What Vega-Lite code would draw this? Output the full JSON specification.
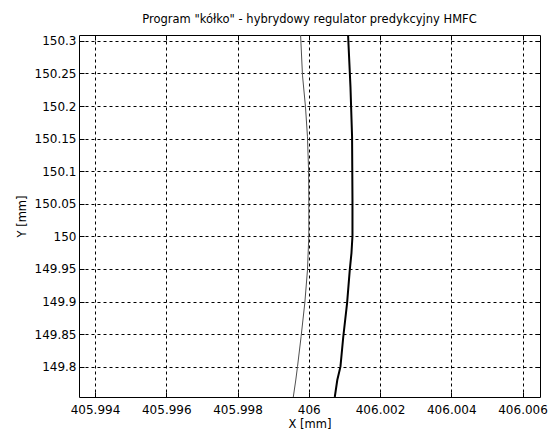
{
  "$schema": "https://vega.github.io/schema/vega-lite/v6.json",
  "width": 461,
  "height": 362,
  "autosize": {"type": "none"},
  "padding": {"left": 79, "top": 35, "right": 12, "bottom": 38},
  "background": "white",
  "title": {
    "text": "Program \"kółko\" - hybrydowy regulator predykcyjny HMFC",
    "font": "DejaVu Sans",
    "fontSize": 11.5,
    "fontWeight": "normal",
    "color": "black",
    "offset": 9
  },
  "config": {
    "view": {"stroke": "black", "strokeWidth": 1},
    "axis": {
      "labelFont": "DejaVu Sans",
      "labelFontSize": 12,
      "labelColor": "black",
      "titleFont": "DejaVu Sans",
      "titleFontSize": 11.5,
      "titleFontWeight": "normal",
      "titleColor": "black",
      "domain": false,
      "tickColor": "black",
      "tickSize": -5,
      "gridColor": "black",
      "gridDash": [3, 3],
      "gridOpacity": 1,
      "gridWidth": 1
    }
  },
  "datasets": {
    "thin": [
      {"x": 405.99977, "y": 150.3087},
      {"x": 405.999823, "y": 150.2474},
      {"x": 405.999907, "y": 150.1988},
      {"x": 405.999963, "y": 150.1528},
      {"x": 405.999994, "y": 150.1017},
      {"x": 406.0, "y": 150.0557},
      {"x": 406.0, "y": 149.9994},
      {"x": 405.999963, "y": 149.9483},
      {"x": 405.999888, "y": 149.8977},
      {"x": 405.999784, "y": 149.846},
      {"x": 405.999683, "y": 149.8},
      {"x": 405.999635, "y": 149.7796},
      {"x": 405.999565, "y": 149.7535}
    ],
    "thick": [
      {"x": 406.001103, "y": 150.3087},
      {"x": 406.00117, "y": 150.2294},
      {"x": 406.001215, "y": 150.1528},
      {"x": 406.001226, "y": 150.0557},
      {"x": 406.001226, "y": 150.0006},
      {"x": 406.001198, "y": 149.9744},
      {"x": 406.00115, "y": 149.9483},
      {"x": 406.001075, "y": 149.8977},
      {"x": 406.000968, "y": 149.846},
      {"x": 406.000889, "y": 149.8},
      {"x": 406.0008, "y": 149.7796},
      {"x": 406.00073, "y": 149.7535}
    ]
  },
  "resolve": {"axis": {"x": "independent", "y": "independent"}},
  "layer": [
    {
      "data": {"name": "thin"},
      "mark": {"type": "line", "color": "#505050", "strokeWidth": 1, "clip": true},
      "encoding": {
        "x": {
          "field": "x", "type": "quantitative",
          "scale": {"domain": [405.99355, 406.00649], "nice": false, "zero": false},
          "axis": {
            "orient": "bottom", "title": "X [mm]", "grid": true,
            "values": [405.994, 405.996, 405.998, 406, 406.002, 406.004, 406.006],
            "format": ".6~r", "labelPadding": 12, "titlePadding": 3
          }
        },
        "y": {
          "field": "y", "type": "quantitative",
          "scale": {"domain": [149.7535, 150.309], "nice": false, "zero": false},
          "axis": {
            "orient": "left", "title": "Y [mm]", "grid": true,
            "values": [149.8, 149.85, 149.9, 149.95, 150, 150.05, 150.1, 150.15, 150.2, 150.25, 150.3],
            "format": ".6~r", "labelPadding": 8, "titlePadding": 7
          }
        },
        "order": {"field": "y", "type": "quantitative"}
      }
    },
    {
      "data": {"name": "thick"},
      "mark": {"type": "line", "color": "black", "strokeWidth": 2, "clip": true},
      "encoding": {
        "x": {
          "field": "x", "type": "quantitative",
          "scale": {"domain": [405.99355, 406.00649], "nice": false, "zero": false},
          "axis": {
            "orient": "top", "title": null, "grid": false, "labels": false,
            "values": [405.994, 405.996, 405.998, 406, 406.002, 406.004, 406.006]
          }
        },
        "y": {
          "field": "y", "type": "quantitative",
          "scale": {"domain": [149.7535, 150.309], "nice": false, "zero": false},
          "axis": {
            "orient": "right", "title": null, "grid": false, "labels": false,
            "values": [149.8, 149.85, 149.9, 149.95, 150, 150.05, 150.1, 150.15, 150.2, 150.25, 150.3]
          }
        },
        "order": {"field": "y", "type": "quantitative"}
      }
    }
  ]
}
